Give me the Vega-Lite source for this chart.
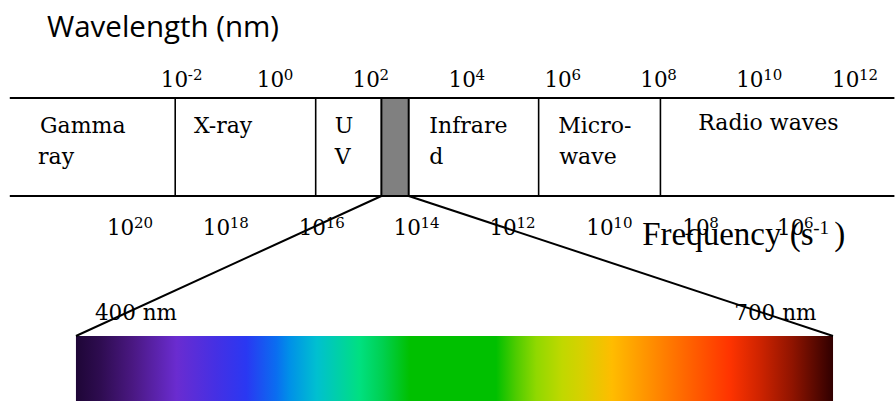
{
  "$schema": "https://vega.github.io/schema/vega-lite/v6.json",
  "width": 896,
  "height": 402,
  "autosize": {"type": "fit", "contains": "padding"},
  "padding": 0,
  "background": "white",
  "config": {"view": {"stroke": null}},
  "datasets": {
    "frame": [
      {"x": -5.15, "x2": 13.3, "y": 98, "y2": 98},
      {"x": -5.15, "x2": 13.3, "y": 196, "y2": 196}
    ],
    "dividers": [
      {"x": -1.7, "x2": -1.7, "y": 98, "y2": 196},
      {"x": 1.23, "x2": 1.23, "y": 98, "y2": 196},
      {"x": 5.88, "x2": 5.88, "y": 98, "y2": 196},
      {"x": 8.42, "x2": 8.42, "y": 98, "y2": 196}
    ],
    "visible": [{"x": 2.6, "x2": 3.17, "y": 98, "y2": 196}],
    "zoomLines": [
      {"x": 2.6, "y": 196, "x2": -3.77, "y2": 336},
      {"x": 3.17, "y": 196, "x2": 12.02, "y2": 336}
    ],
    "spectrum": [{"x": -3.77, "x2": 12.02, "y": 336, "y2": 401}],
    "labels": [
      {"x": -4.52, "y": 133, "text": "Gamma"},
      {"x": -4.56, "y": 164, "text": "ray"},
      {"x": -1.31, "y": 133, "text": "X-ray"},
      {"x": 1.625, "y": 133, "text": "U"},
      {"x": 1.625, "y": 164, "text": "V"},
      {"x": 3.6, "y": 133, "text": "Infrare"},
      {"x": 3.6, "y": 164, "text": "d"},
      {"x": 6.29, "y": 133, "text": "Micro-"},
      {"x": 6.31, "y": 164, "text": "wave"},
      {"x": 9.21, "y": 130, "text": "Radio waves"}
    ],
    "nmLabels": [
      {"x": -3.375, "y": 320, "text": "400 nm"},
      {"x": 9.96, "y": 320, "text": "700 nm"}
    ],
    "ticks": [
      {"x": -2, "y": 87, "base": "10", "exp": "-2"},
      {"x": 0, "y": 87, "base": "10", "exp": "0"},
      {"x": 2, "y": 87, "base": "10", "exp": "2"},
      {"x": 4, "y": 87, "base": "10", "exp": "4"},
      {"x": 6, "y": 87, "base": "10", "exp": "6"},
      {"x": 8, "y": 87, "base": "10", "exp": "8"},
      {"x": 10, "y": 87, "base": "10", "exp": "10"},
      {"x": 12, "y": 87, "base": "10", "exp": "12"},
      {"x": -3.125, "y": 235, "base": "10", "exp": "20"},
      {"x": -1.125, "y": 235, "base": "10", "exp": "18"},
      {"x": 0.875, "y": 235, "base": "10", "exp": "16"},
      {"x": 2.854, "y": 235, "base": "10", "exp": "14"},
      {"x": 4.854, "y": 235, "base": "10", "exp": "12"},
      {"x": 6.875, "y": 235, "base": "10", "exp": "10"},
      {"x": 8.875, "y": 235, "base": "10", "exp": "8"},
      {"x": 10.854, "y": 235, "base": "10", "exp": "6"}
    ],
    "title": [{"x": -4.375, "y": 37, "text": "Wavelength (nm)"}],
    "freq": [{"x": 8.04, "y": 245, "text": "Frequency (s", "sup": "-1", "close": ")"}]
  },
  "encoding": {
    "x": {"field": "x", "type": "quantitative", "axis": null,
          "scale": {"domain": [-5.354167, 13.3125], "nice": false, "zero": false}},
    "y": {"field": "y", "type": "quantitative", "axis": null,
          "scale": {"domain": [0, 402], "nice": false, "zero": false, "reverse": true}}
  },
  "layer": [
    {
      "data": {"name": "spectrum"},
      "mark": {"type": "rect", "fill": {
        "gradient": "linear", "x1": 0, "y1": 0, "x2": 1, "y2": 0,
        "stops": [
          {"offset": 0, "color": "#1e0636"},
          {"offset": 0.032, "color": "#2e0c50"},
          {"offset": 0.075, "color": "#4a1882"},
          {"offset": 0.133, "color": "#6a2cd0"},
          {"offset": 0.186, "color": "#4430e4"},
          {"offset": 0.225, "color": "#2a38f2"},
          {"offset": 0.265, "color": "#0a6ef0"},
          {"offset": 0.282, "color": "#0090e8"},
          {"offset": 0.318, "color": "#00c0d0"},
          {"offset": 0.375, "color": "#00e080"},
          {"offset": 0.405, "color": "#00d050"},
          {"offset": 0.441, "color": "#00c000"},
          {"offset": 0.555, "color": "#00c000"},
          {"offset": 0.582, "color": "#50cc00"},
          {"offset": 0.608, "color": "#90d800"},
          {"offset": 0.642, "color": "#c0d800"},
          {"offset": 0.669, "color": "#d8d000"},
          {"offset": 0.708, "color": "#ffbc00"},
          {"offset": 0.78, "color": "#ff7c00"},
          {"offset": 0.863, "color": "#ff3400"},
          {"offset": 0.902, "color": "#d02400"},
          {"offset": 0.946, "color": "#901400"},
          {"offset": 1, "color": "#300000"}
        ]}},
      "encoding": {"x2": {"field": "x2"}, "y2": {"field": "y2"}}
    },
    {
      "data": {"name": "visible"},
      "mark": {"type": "rect", "fill": "#808080", "stroke": "#000000", "strokeWidth": 2},
      "encoding": {"x2": {"field": "x2"}, "y2": {"field": "y2"}}
    },
    {
      "data": {"name": "dividers"},
      "mark": {"type": "rule", "color": "#000000", "strokeWidth": 1.6},
      "encoding": {"x2": {"field": "x2"}, "y2": {"field": "y2"}}
    },
    {
      "data": {"name": "frame"},
      "mark": {"type": "rule", "color": "#000000", "strokeWidth": 2},
      "encoding": {"x2": {"field": "x2"}, "y2": {"field": "y2"}}
    },
    {
      "data": {"name": "labels"},
      "mark": {"type": "text", "align": "left", "baseline": "alphabetic", "font": "DejaVu Serif", "fontSize": 22, "color": "#000000"},
      "encoding": {"text": {"field": "text"}}
    },
    {
      "data": {"name": "nmLabels"},
      "mark": {"type": "text", "align": "left", "baseline": "alphabetic", "font": "DejaVu Serif", "fontSize": 21.5, "color": "#000000"},
      "encoding": {"text": {"field": "text"}}
    },
    {
      "data": {"name": "ticks"},
      "mark": {"type": "text", "align": "left", "baseline": "alphabetic", "font": "DejaVu Serif", "fontSize": 21.5, "color": "#000000"},
      "encoding": {"text": {"field": "base"}}
    },
    {
      "data": {"name": "ticks"},
      "mark": {"type": "text", "align": "left", "baseline": "alphabetic", "font": "DejaVu Serif", "fontSize": 15, "color": "#000000", "dx": 27, "dy": -7},
      "encoding": {"text": {"field": "exp"}}
    },
    {
      "data": {"name": "title"},
      "mark": {"type": "text", "align": "left", "baseline": "alphabetic", "font": "Open Sans", "fontSize": 29.5, "color": "#000000"},
      "encoding": {"text": {"field": "text"}}
    },
    {
      "data": {"name": "freq"},
      "mark": {"type": "text", "align": "left", "baseline": "alphabetic", "font": "Liberation Serif", "fontSize": 33, "color": "#000000"},
      "encoding": {"text": {"field": "text"}}
    },
    {
      "data": {"name": "freq"},
      "mark": {"type": "text", "align": "left", "baseline": "alphabetic", "font": "Liberation Serif", "fontSize": 19, "color": "#000000", "dx": 171, "dy": -11},
      "encoding": {"text": {"field": "sup"}}
    },
    {
      "data": {"name": "freq"},
      "mark": {"type": "text", "align": "left", "baseline": "alphabetic", "font": "Liberation Serif", "fontSize": 33, "color": "#000000", "dx": 192},
      "encoding": {"text": {"field": "close"}}
    },
    {
      "data": {"name": "zoomLines"},
      "mark": {"type": "rule", "color": "#000000", "strokeWidth": 2},
      "encoding": {"x2": {"field": "x2"}, "y2": {"field": "y2"}}
    }
  ]
}
